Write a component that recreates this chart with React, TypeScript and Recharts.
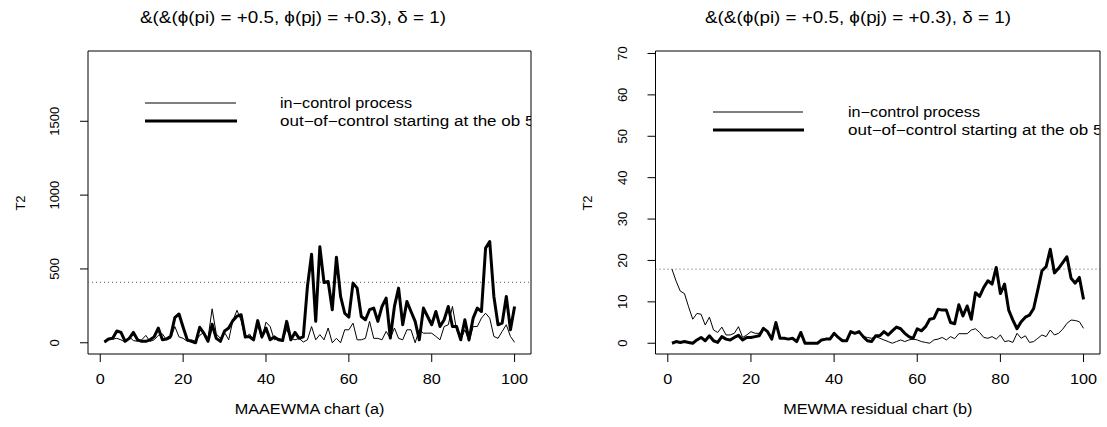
import React from "react";
import { LineChart, Line, XAxis, YAxis, ReferenceLine, ReferenceArea } from "recharts";

// ---------- data ----------
const obs: number[] = Array.from({ length: 100 }, (_, i) => i + 1);

const maaIn: number[] = [
  5, 20, 25, 30, 20, 5, 40, 15, 10, 20,
  50, 10, 20, 50, 60, 20, 30, 110, 40, 30,
  10, 20, 10, 50, 70, 30, 230, 60, 30, 70,
  20, 150, 220, 150, 30, 60, 20, 120, 30, 140,
  110, 20, 30, 20, 90, 30, 20, 30, 5, 20,
  110, 20, 55, 20, 100, 0, 30, 0, 88, 88,
  133, 20, 20, 30, 145, 30, 30, 20, 77, 30,
  100, 30, 20, 88, 88, 0, 88, 65, 65, 65,
  43, 20, 110, 122, 246, 88, 20, 88, 10, 110,
  110, 167, 200, 167, 43, 30, 77, 122, 43, 3,
];

const maaOut: number[] = [
  5, 25, 30, 80, 70, 10, 30, 70, 20, 10,
  10, 20, 40, 100, 20, 25, 45, 170, 195, 105,
  20, 10, 0, 105, 65, 10, 125, 30, 10, 80,
  100, 150, 180, 190, 40, 40, 20, 150, 40, 100,
  20, 40, 20, 15, 145, 20, 70, 30, 40, 380,
  600, 145, 650, 408, 415, 224, 580, 314, 200, 174,
  404, 370, 178, 156, 224, 235, 145, 246, 302, 32,
  246, 370, 122, 280, 212, 145, 20, 235, 178, 122,
  212, 110, 156, 246, 110, 110, 20, 156, 20, 167,
  235, 212, 641, 685, 314, 122, 133, 314, 88, 246,
];

const mewIn: number[] = [
  17.9, 15, 12.6, 12, 8.8, 5.8, 7.2, 7, 4.4, 6.3,
  3.2, 2.6, 3.9, 2, 2, 2.4, 4, 1.4, 2, 2.8,
  2.4, 2.4, 3.6, 2.8, 1, 4.8, 1.2, 1.2, 1, 1.2,
  0.4, 2.4, 0, 0, 0, 0, 0.8, 1, 1, 2.2,
  1.4, 0.6, 0.6, 2.6, 2.4, 2.6, 1.6, 1.4, 1.2, 1.6,
  1.2, 0.8, 0.4, 0, 0.4, 0.8, 0.4, 0.8, 1, 0.8,
  0.4, 0.2, 0, 0.8, 1, 1.4, 0.8, 1.6, 1.1, 2.3,
  2.3, 2.3, 3.2, 3.5, 2.6, 1.4, 1.2, 1.6, 1, 2,
  0.4, 0.6, 0.2, 2.4, 1.2, 1.8, 0.2, 0.4, 1.2, 2,
  1.6, 3.2, 2, 2.4, 3.4, 4.8, 5.6, 5.5, 5.2, 3.6,
];

const mewOut: number[] = [
  0, 0.4, 0.2, 0.4, 0.2, 0, 0.8, 1.4, 0.6, 1.8,
  0.6, 0.2, 1.6, 1, 0.8, 1.4, 1.9, 0.8, 1.4, 1.4,
  1.6, 1.8, 3.6, 2.8, 1, 5, 1.2, 1.2, 1, 1.2,
  0.4, 2.6, 0, 0, 0, 0, 0.8, 1, 1, 2.4,
  1.4, 0.6, 0.6, 2.8, 2.4, 2.8, 1.6, 0.6, 0.4, 1.8,
  1.8, 2.8, 2, 3, 3.9, 3.5, 2.4, 1.6, 1.2, 3.5,
  3, 4, 5.8, 6, 8.2, 8, 8, 5, 4.7, 9.3,
  6.6, 9, 5.8, 12.2, 11.3, 13.5, 15.1, 14.3, 18.3, 12,
  14.3, 8, 5.6, 3.5, 5.2, 6.3, 6.8, 8.4, 12.9, 17.5,
  18.5, 22.7, 17, 18.1, 19.5, 20.9, 15.7, 14.5, 15.9, 10.6,
];

const xTicks: number[] = [0, 20, 40, 60, 80, 100];
const leftYTicks: number[] = [0, 500, 1000, 1500];
const rightYTicks: number[] = [0, 10, 20, 30, 40, 50, 60, 70];

const leftThreshold = 410;
const rightThreshold = 17.9;

const titleText = "&(&(\u03D5(pi) = +0.5, \u03D5(pj) = +0.3), \u03B4 = 1)";
const seriesNames: string[] = ["in\u2212control process", "out\u2212of\u2212control starting at the ob 50"];
const xTitles: string[] = ["MAAEWMA chart (a)", "MEWMA residual chart (b)"];
const yTitle = "T2";

const leftData = obs.map((o, i) => ({ obs: o, inc: maaIn[i], out: maaOut[i] }));
const rightData = obs.map((o, i) => ({ obs: o, inc: mewIn[i], out: mewOut[i] }));

// ---------- styling ----------
const FONT = "'Liberation Sans', Arial, Helvetica, sans-serif";
const X_DOMAIN: [number, number] = [-2.96, 103.96];
const LEFT_Y_DOMAIN: [number, number] = [-76, 1976];
const RIGHT_Y_DOMAIN: [number, number] = [-2.6, 70.6];
const SX = 1.12;

type STextProps = { x: number; y: number; size?: number; sx?: number; anchor?: string; children: React.ReactNode };
const SText = ({ x, y, size = 14.5, sx = SX, anchor = "start", children }: STextProps) => (
  <text
    transform={`translate(${x},${y}) scale(${sx},1)`}
    x={0}
    y={0}
    textAnchor={anchor as any}
    fontSize={size}
    fontFamily={FONT}
    fill="#000"
  >
    {children}
  </text>
);

const XTick = (props: any) => {
  const { x, y, payload } = props;
  return (
    <SText x={x} y={y + 20} anchor="middle">
      {payload.value}
    </SText>
  );
};

const YTick = (props: any) => {
  const { x, y, payload } = props;
  const bx = x - 18.5;
  return (
    <text
      x={bx}
      y={y}
      transform={`rotate(-90, ${bx}, ${y})`}
      textAnchor="middle"
      fontSize={13}
      fontFamily={FONT}
      fill="#000"
    >
      {payload.value}
    </text>
  );
};

type PanelProps = {
  data: any[];
  yDomain: [number, number];
  yTicks: number[];
  threshold: number;
  left: number;
  width: number;
  marginLeft: number;
  marginRight: number;
};

const Panel = ({ data, yDomain, yTicks, threshold, left, width, marginLeft, marginRight }: PanelProps) => (
  <div style={{ position: "absolute", left, top: 0 }}>
    <LineChart
      width={width}
      height={427}
      data={data}
      margin={{ top: 51, right: marginRight, bottom: 43, left: marginLeft }}
    >
      <XAxis
        dataKey="obs"
        type="number"
        domain={X_DOMAIN}
        ticks={xTicks}
        interval={0}
        allowDataOverflow
        axisLine={false}
        tickLine={{ stroke: "#000" }}
        tickSize={8}
        height={30}
        tick={XTick}
      />
      <YAxis
        type="number"
        domain={yDomain}
        ticks={yTicks}
        interval={0}
        allowDataOverflow
        axisLine={false}
        tickLine={{ stroke: "#000" }}
        tickSize={8}
        width={30}
        tick={YTick}
      />
      <ReferenceArea
        x1={X_DOMAIN[0]}
        x2={X_DOMAIN[1]}
        y1={yDomain[0]}
        y2={yDomain[1]}
        fill="none"
        fillOpacity={0}
        stroke="#000"
        strokeWidth={1}
        ifOverflow="visible"
      />
      <ReferenceLine y={threshold} stroke="#555" strokeWidth={1} strokeDasharray="1 3" />
      <Line
        type="linear"
        dataKey="inc"
        stroke="#000"
        strokeWidth={1}
        dot={false}
        activeDot={false}
        isAnimationActive={false}
        strokeLinejoin="round"
      />
      <Line
        type="linear"
        dataKey="out"
        stroke="#000"
        strokeWidth={3}
        dot={false}
        activeDot={false}
        isAnimationActive={false}
        strokeLinejoin="round"
      />
    </LineChart>
  </div>
);

type LegendProps = { x1: number; x2: number; tx: number; y1: number; y2: number; clipL: number; clipR: number; id: string };
const LegendBlock = ({ x1, x2, tx, y1, y2, clipL, clipR, id }: LegendProps) => (
  <g>
    <defs>
      <clipPath id={id}>
        <rect x={clipL} y={0} width={clipR - clipL} height={427} />
      </clipPath>
    </defs>
    <line x1={x1} x2={x2} y1={y1} y2={y1} stroke="#000" strokeWidth={1} />
    <line x1={x1} x2={x2 + 1} y1={y2} y2={y2} stroke="#000" strokeWidth={3} />
    <g clipPath={`url(#${id})`}>
      <SText x={tx} y={y1 + 5}>{seriesNames[0]}</SText>
      <SText x={tx} y={y2 + 5} sx={1.175}>{seriesNames[1]}</SText>
    </g>
  </g>
);

export default function App() {
  return (
    <div style={{ position: "absolute", left: 0, top: 0, width: 1107, height: 427, background: "#fff", overflow: "hidden" }}>
      <Panel
        data={leftData}
        yDomain={LEFT_Y_DOMAIN}
        yTicks={leftYTicks}
        threshold={leftThreshold}
        left={0}
        width={553}
        marginLeft={58}
        marginRight={22}
      />
      <Panel
        data={rightData}
        yDomain={RIGHT_Y_DOMAIN}
        yTicks={rightYTicks}
        threshold={rightThreshold}
        left={553}
        width={554}
        marginLeft={72.5}
        marginRight={7}
      />
      <svg
        width={1107}
        height={427}
        style={{ position: "absolute", left: 0, top: 0, pointerEvents: "none" }}
      >
        <SText x={293} y={23} size={16.5} sx={1.14} anchor="middle">{titleText}</SText>
        <SText x={858} y={23} size={16.5} sx={1.14} anchor="middle">{titleText}</SText>
        <SText x={309.5} y={414} anchor="middle">{xTitles[0]}</SText>
        <SText x={877.8} y={414} anchor="middle">{xTitles[1]}</SText>
        <text x={24.6} y={203} transform="rotate(-90, 24.6, 203)" textAnchor="middle" fontSize={13} fontFamily={FONT} fill="#000">{yTitle}</text>
        <text x={591.6} y={203} transform="rotate(-90, 591.6, 203)" textAnchor="middle" fontSize={13} fontFamily={FONT} fill="#000">{yTitle}</text>
        <LegendBlock id="clipL" x1={145} x2={236} tx={280} y1={103} y2={121} clipL={88} clipR={531} />
        <LegendBlock id="clipR" x1={713} x2={803} tx={848} y1={112} y2={130} clipL={655.5} clipR={1099.5} />
      </svg>
    </div>
  );
}
